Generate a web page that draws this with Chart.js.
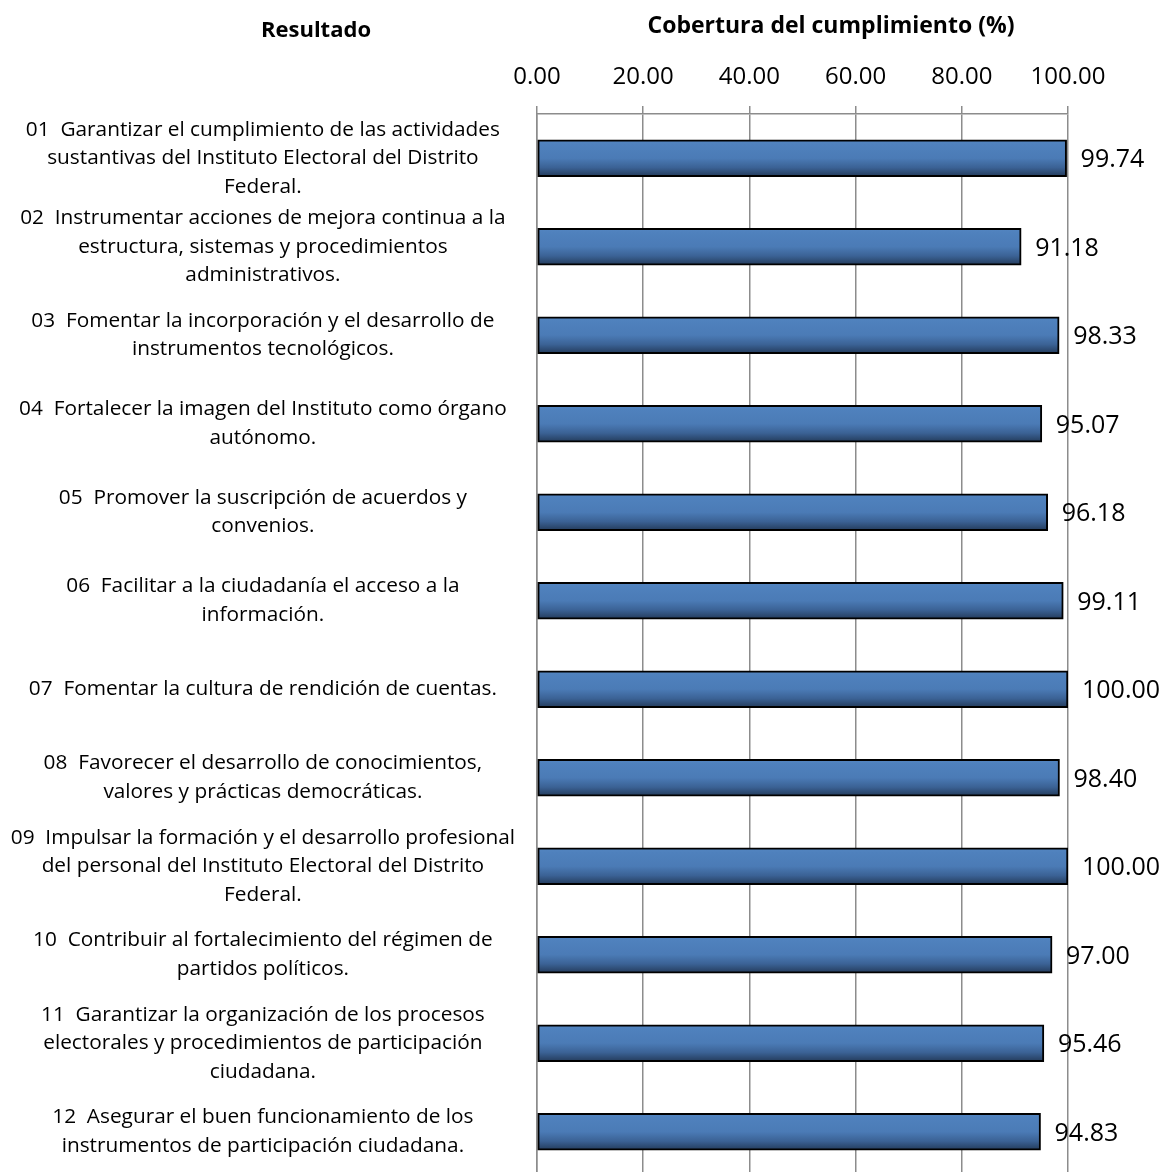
<!DOCTYPE html>
<html>
<head>
<meta charset="utf-8">
<script src="https://cdn.jsdelivr.net/npm/chart.js@4.4.0/dist/chart.umd.min.js"></script>
<style>
  html, body { margin: 0; padding: 0; background: #fff; overflow: hidden; }
  #wrap { position: relative; width: 1167px; height: 1172px; overflow: hidden; }
  canvas { position: absolute; left: 0; top: 0; }
  .hdr { position: absolute; font-family: "Open Sans", sans-serif; font-weight: bold; color: #000; white-space: nowrap; transform: translate(-50%, -50%); }
</style>
</head>
<body>
<div id="wrap">
  <canvas id="c" width="1167" height="1176"></canvas>
  <div class="hdr" style="left:316px; top:28px; font-size:22px;">Resultado</div>
  <div class="hdr" style="left:831px; top:24px; font-size:23px;">Cobertura del cumplimiento (%)</div>
</div>
<script>
const categories = [
  ["01  Garantizar el cumplimiento de las actividades", "sustantivas del Instituto Electoral del Distrito", "Federal."],
  ["02  Instrumentar acciones de mejora continua a la", "estructura, sistemas y procedimientos", "administrativos."],
  ["03  Fomentar la incorporación y el desarrollo de", "instrumentos tecnológicos."],
  ["04  Fortalecer la imagen del Instituto como órgano", "autónomo."],
  ["05  Promover la suscripción de acuerdos y", "convenios."],
  ["06  Facilitar a la ciudadanía el acceso a la", "información."],
  ["07  Fomentar la cultura de rendición de cuentas."],
  ["08  Favorecer el desarrollo de conocimientos,", "valores y prácticas democráticas."],
  ["09  Impulsar la formación y el desarrollo profesional", "del personal del Instituto Electoral del Distrito", "Federal."],
  ["10  Contribuir al fortalecimiento del régimen de", "partidos políticos."],
  ["11  Garantizar la organización de los procesos", "electorales y procedimientos de participación", "ciudadana."],
  ["12  Asegurar el buen funcionamiento de los", "instrumentos de participación ciudadana."]
];
const coverage = [99.74, 91.18, 98.33, 95.07, 96.18, 99.11, 100.00, 98.40, 100.00, 97.00, 95.46, 94.83];
const xTicks = [0, 20, 40, 60, 80, 100];

const BAR_H = 37;

const valueLabels = {
  id: 'valueLabels',
  afterDatasetsDraw(chart) {
    const ctx = chart.ctx;
    const meta = chart.getDatasetMeta(0);
    ctx.save();
    ctx.font = '25px "Open Sans", sans-serif';
    ctx.fillStyle = '#000';
    ctx.textAlign = 'left';
    ctx.textBaseline = 'middle';
    meta.data.forEach((el, i) => {
      ctx.fillText(coverage[i].toFixed(2), el.x + 14, el.y + 2);
    });
    ctx.restore();
  }
};

new Chart(document.getElementById('c'), {
  type: 'bar',
  data: {
    labels: categories,
    datasets: [{
      data: coverage,
      barThickness: BAR_H,
      borderColor: '#000',
      borderWidth: 2,
      borderSkipped: false,
      backgroundColor: (c) => {
        const chart = c.chart;
        const ys = chart.scales && chart.scales.y;
        if (!ys || c.type !== 'data' || !chart.chartArea) return '#4f81bd';
        const yc = ys.getPixelForValue(c.dataIndex);
        const g = chart.ctx.createLinearGradient(0, yc - BAR_H / 2, 0, yc + BAR_H / 2);
        g.addColorStop(0, '#5486c1');
        g.addColorStop(0.12, '#4f81bd');
        g.addColorStop(0.5, '#4b7bb6');
        g.addColorStop(0.75, '#3b6295');
        g.addColorStop(1, '#233a59');
        return g;
      }
    }]
  },
  options: {
    indexAxis: 'y',
    responsive: false,
    animation: false,
    devicePixelRatio: 1,
    layout: { padding: { left: 0, right: 99, top: 0, bottom: 0 } },
    plugins: { legend: { display: false }, tooltip: { enabled: false } },
    scales: {
      x: {
        position: 'top',
        min: 0, max: 100,
        afterFit: (s) => { s.height = 114; s.paddingLeft = 0; s.paddingRight = 0; },
        afterBuildTicks: (s) => { s.ticks = xTicks.map(v => ({ value: v })); },
        grid: { color: '#8c8c8c', lineWidth: 1.5, tickLength: 8, drawTicks: true },
        border: { display: true, color: '#8c8c8c', width: 1.5 },
        ticks: {
          padding: 14,
          color: '#000',
          font: { family: '"Open Sans", sans-serif', size: 24, lineHeight: 1.2 },
          callback: (v) => Number(v).toFixed(2),
          maxRotation: 0
        }
      },
      y: {
        afterFit: (s) => { s.width = 537; s.paddingTop = 0; s.paddingBottom = 0; },
        grid: { display: false, drawTicks: false },
        border: { display: true, color: '#8c8c8c', width: 1.5 },
        ticks: {
          padding: 22,
          crossAlign: 'center',
          color: '#000',
          autoSkip: false,
          font: { family: '"Open Sans", sans-serif', size: 20.8, lineHeight: 1.37 }
        }
      }
    }
  },
  plugins: [valueLabels]
});
</script>
</body>
</html>
